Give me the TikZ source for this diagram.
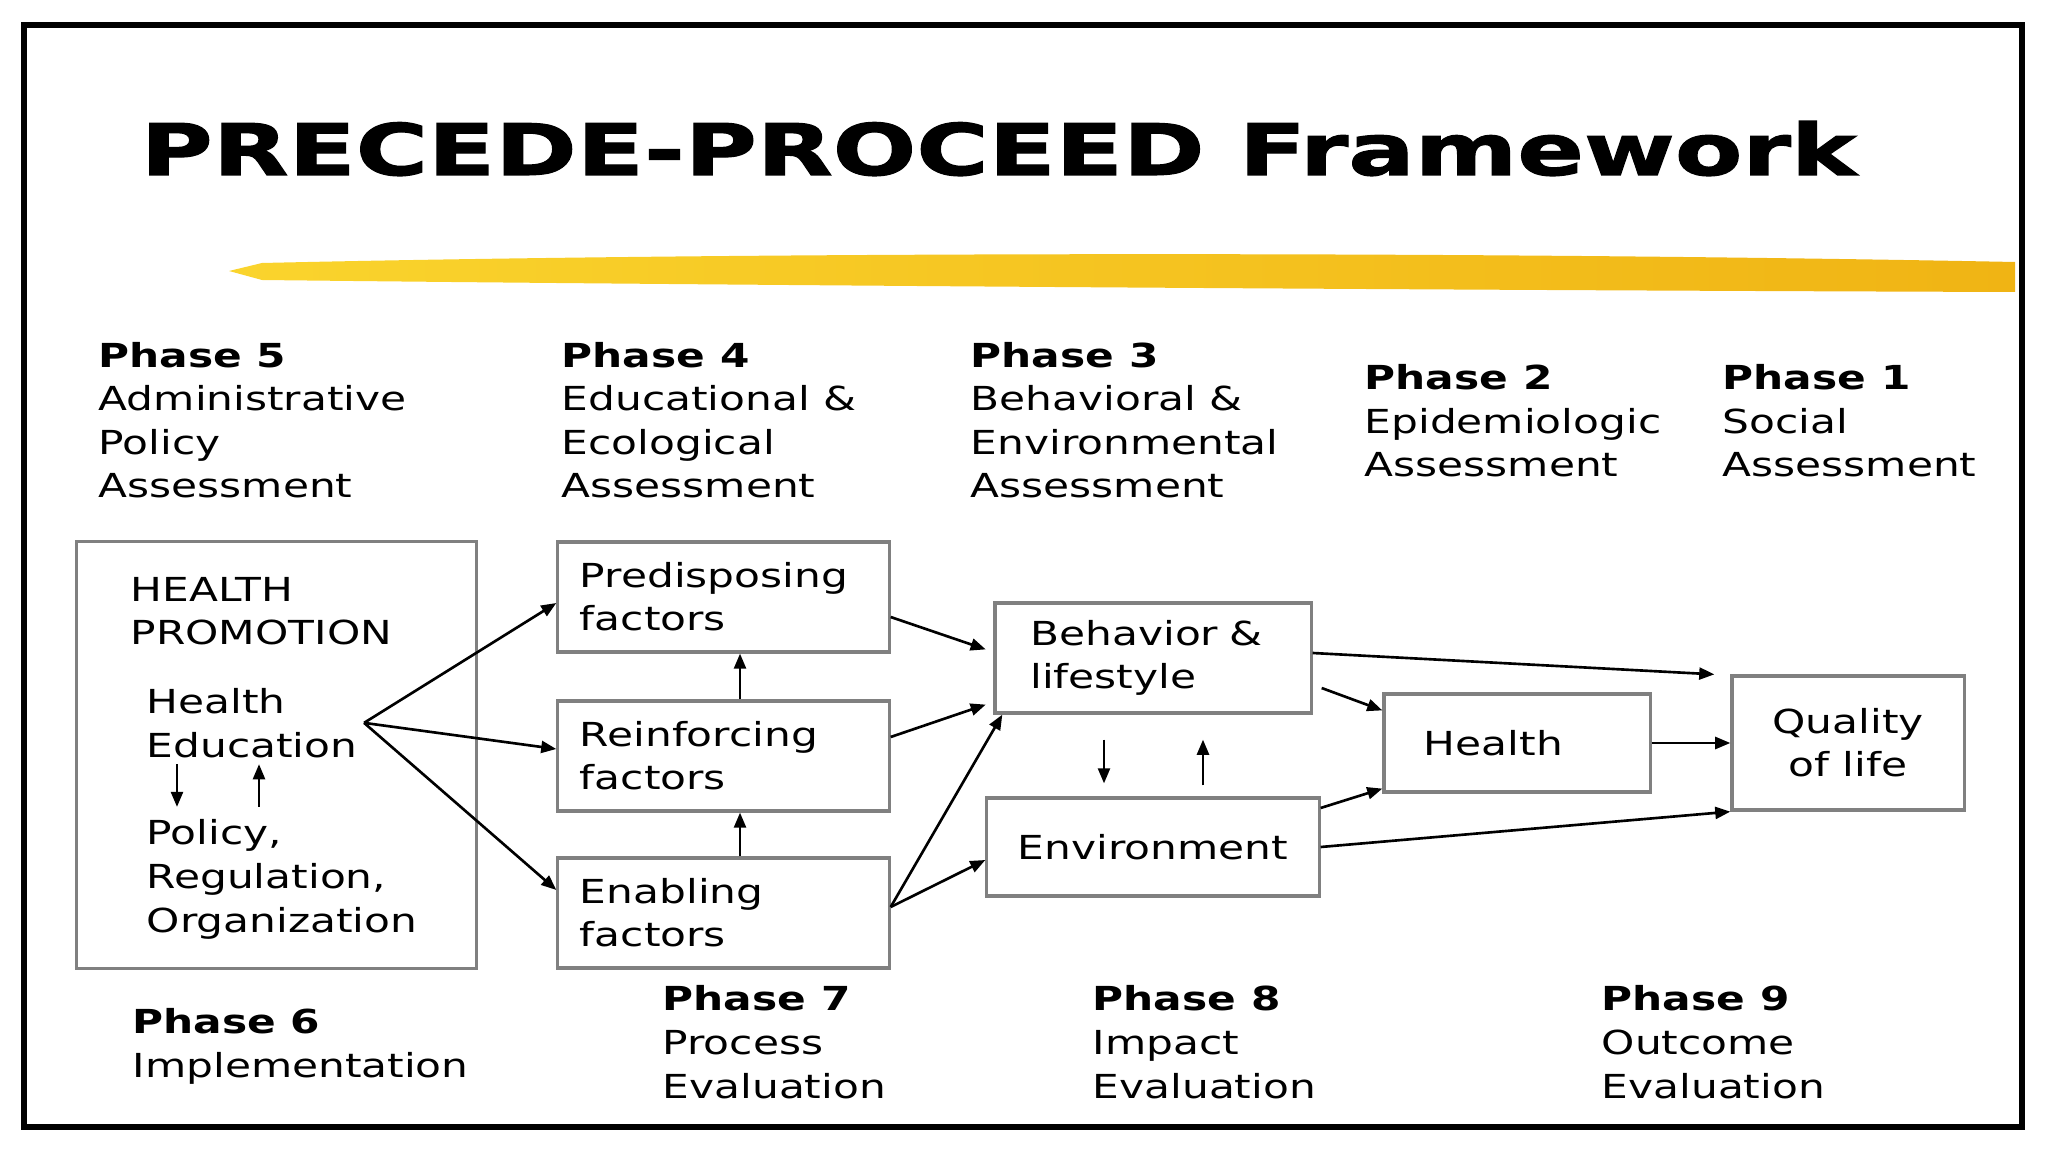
\documentclass[tikz,border=0pt]{standalone}
\usepackage{fontspec}
\setmainfont{DejaVu Sans}[FakeStretch=1.28]
\newfontfamily\titlefont{DejaVu Sans}[FakeStretch=1.385, FakeBold=1.6]
\usetikzlibrary{arrows.meta}
\definecolor{boxgray}{RGB}{128,128,128}
\definecolor{brushA}{RGB}{250,212,45}
\definecolor{brushB}{RGB}{240,180,20}

\begin{document}
\begin{tikzpicture}[x=0.01cm, y=-0.01cm,
    box/.style={draw=boxgray, line width=0.9pt, inner sep=0pt,
        font=\fontsize{9.4}{12.3}\selectfont},
    lbl/.style={inner sep=0pt, align=left, anchor=base west,
        font=\fontsize{9.4}{12.4}\selectfont},
    conn/.style={line width=0.75pt, -{Triangle[length=4.3pt, width=3.4pt]}}]
    \useasboundingbox (0,0) rectangle (2048,1152);

    % Slide frame
    \draw[line width=1.7pt] (24,25) rectangle (2022,1127);

    % Title and yellow brush stroke
    \node[inner sep=0pt, anchor=base west, font=\fontsize{20.2}{24}\selectfont] (title)
        at (140,175) {\titlefont\bfseries PRECEDE-PROCEED Framework};
    \shade[left color=brushA, right color=brushB]
        (229,271) -- (262,263) .. controls (700,253) and (1400,250) .. (2015,262)
        -- (2015,292) .. controls (1400,290) and (700,285) .. (262,280) -- cycle;

    % Phase headers (top row), placed at the baseline of their last line
    \node[lbl] (ph5) at (98,498) {\textbf{Phase 5}\\Administrative\\Policy\\Assessment};
    \node[lbl] (ph4) at (561,498) {\textbf{Phase 4}\\Educational \&\\Ecological\\Assessment};
    \node[lbl] (ph3) at (970,498) {\textbf{Phase 3}\\Behavioral \&\\Environmental\\Assessment};
    \node[lbl] (ph2) at (1364,477) {\textbf{Phase 2}\\Epidemiologic\\Assessment};
    \node[lbl] (ph1) at (1722,477) {\textbf{Phase 1}\\Social\\Assessment};

    % Health promotion box
    \node[box, minimum width=3.99cm, minimum height=4.26cm] (hpbox) at (276.5,755) {};
    \node[lbl] (hphead) at (130,645) {HEALTH\\PROMOTION};
    \node[lbl] (hedu) at (146,757) {Health\\Education};
    \node[lbl] (policy) at (146,932) {Policy,\\Regulation,\\Organization};
    \coordinate (hpx1) at (177,0);
    \coordinate (hpx2) at (259,0);
    \draw[conn, shorten <=0.06cm, shorten >=0.12cm] (hedu.south -| hpx1) -- (policy.north -| hpx1);
    \draw[conn, shorten <=0.12cm, shorten >=0.06cm] (policy.north -| hpx2) -- (hedu.south -| hpx2);

    % Factor boxes
    \node[box, minimum width=3.31cm, minimum height=1.10cm, text width=2.87cm, align=left]
        (pred) at (723.5,597) {Predisposing\\factors};
    \node[box, minimum width=3.31cm, minimum height=1.10cm, text width=2.87cm, align=left]
        (rein) at (723.5,756) {Reinforcing\\factors};
    \node[box, minimum width=3.31cm, minimum height=1.10cm, text width=2.87cm, align=left]
        (enab) at (723.5,913) {Enabling\\factors};

    % Behavior, environment, health, quality of life
    \node[box, minimum width=3.16cm, minimum height=1.10cm, text width=2.45cm, align=left]
        (beh) at (1153,658) {Behavior \&\\lifestyle};
    \node[box, minimum width=3.32cm, minimum height=0.98cm, align=center]
        (env) at (1153,847) {Environment};
    \node[box, minimum width=2.66cm, minimum height=0.98cm, text width=1.86cm, align=left]
        (hlth) at (1517,743) {Health};
    \node[box, minimum width=2.32cm, minimum height=1.34cm, align=center]
        (qol) at (1848,743) {Quality\\of life};

    % Arrows from health education to the factors
    \draw[conn] ([xshift=0.06cm]hedu.east) -- ([yshift=-0.06cm]pred.west);
    \draw[conn] ([xshift=0.06cm]hedu.east) -- ([yshift=0.07cm]rein.west);
    \draw[conn] ([xshift=0.06cm]hedu.east) -- ([yshift=0.23cm]enab.west);
    \draw[conn] ([xshift=0.165cm]rein.north) -- ([xshift=0.165cm]pred.south);
    \draw[conn] ([xshift=0.165cm]enab.north) -- ([xshift=0.165cm]rein.south);

    % Factors to behavior and environment
    \draw[conn, shorten >=0.08cm] ([yshift=-0.2cm]pred.east) -- ([yshift=0.06cm]beh.west);
    \draw[conn, shorten >=0.08cm] ([yshift=0.19cm]rein.east) -- ([yshift=-0.44cm]beh.west);
    \draw[conn] ([yshift=0.06cm]enab.east) -- ([xshift=0.09cm]beh.south west);
    \draw[conn] ([yshift=0.06cm]enab.east) -- ([yshift=-0.13cm]env.west);
    \coordinate (bex1) at (1104,0);
    \coordinate (bex2) at (1203,0);
    \draw[conn, shorten <=0.25cm, shorten >=0.13cm] (beh.south -| bex1) -- (env.north -| bex1);
    \draw[conn, shorten <=0.11cm, shorten >=0.25cm] (env.north -| bex2) -- (beh.south -| bex2);

    % Outcomes
    \draw[conn] ([yshift=0.05cm]beh.east) -- ([xshift=-0.16cm]qol.north west);
    \draw[conn] ([xshift=0.09cm, yshift=-0.3cm]beh.east) -- ([yshift=-0.18cm]hlth.north west);
    \draw[conn] ([yshift=0.39cm]env.east) -- ([yshift=0.05cm]hlth.south west);
    \draw[conn] (env.east) -- (qol.south west);
    \draw[conn] (hlth) -- (qol);

    % Phase labels (bottom row)
    \node[lbl] (ph6) at (132,1077) {\textbf{Phase 6}\\Implementation};
    \node[lbl] (ph7) at (662,1098) {\textbf{Phase 7}\\Process\\Evaluation};
    \node[lbl] (ph8) at (1092,1098) {\textbf{Phase 8}\\Impact\\Evaluation};
    \node[lbl] (ph9) at (1601,1098) {\textbf{Phase 9}\\Outcome\\Evaluation};
\end{tikzpicture}
\end{document}
